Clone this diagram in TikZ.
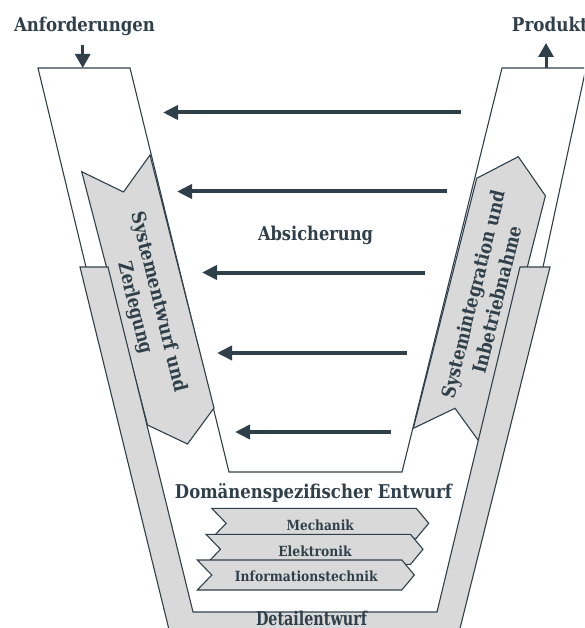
\documentclass[tikz,border=0pt]{standalone}
\usepackage{fontspec}
\usepackage{graphicx}
\setmainfont{DejaVu Serif}
\usetikzlibrary{arrows.meta}
\definecolor{ink}{HTML}{2F404B}
\definecolor{panel}{HTML}{D9D9D9}
% set a text to a given width, keeping its height
\newcommand{\fitto}[2]{\resizebox{#1}{\height}{#2}}

\begin{document}
\begin{tikzpicture}[x=1pt,y=-1pt,
  outline/.style={draw=ink,line width=1.1pt},
  panelshape/.style={outline,fill=panel},
  check/.style={draw=ink,line width=4pt,-{Triangle[length=15pt,width=14pt]}},
  io/.style={draw=ink,line width=3pt,-{Triangle[length=14pt,width=15pt]}},
  big/.style={text=ink,inner sep=0pt,font=\bfseries\fontsize{19}{24.5}\selectfont},
  small/.style={text=ink,inner sep=0pt,font=\bfseries\fontsize{14}{16}\selectfont},
  domain/.pic={\draw[panelshape] (0,0) -- (204.5,0) -- (217,15) -- (204.5,30)
               -- (0,30) -- (14.5,15) -- cycle;}]
\useasboundingbox (0,0) rectangle (584,628);
\clip (0,0) rectangle (584,628);

% outline of the V
\draw[outline] (87.9,275) -- (38,68) -- (130,68) -- (229,472) -- (402,472)
  -- (502,68) -- (586,68) -- (541.3,275);

% phase arrows along the arms
\draw[panelshape] (476.7,178.3) -- (518.3,156.7) -- (545.4,195.8) -- (482,445.5)
  -- (455,408.3) -- (413.3,428.3) -- cycle;
\draw[panelshape] (81.7,171.7) -- (123.5,192) -- (150,155) -- (214,408)
  -- (187.5,444) -- (147.5,425) -- cycle;

% detail design band
\draw[panelshape] (80,267) -- (108,267) -- (193,612) -- (437,612) -- (520,267)
  -- (550,267) -- (454.6,650) -- (174,650) -- cycle;

\node[big,rotate=-76,align=center] (design) at (146.5,305)
  {\fitto{185pt}{Systementwurf und}\\\fitto{94pt}{Zerlegung}};
\node[big,rotate=76,align=center] (integ) at (485,297)
  {\fitto{213pt}{Systemintegration und}\\\fitto{151pt}{Inbetriebnahme}};

% verification arrows
\coordinate (a1s) at (461,112.5); \coordinate (a1e) at (163,112.5);
\coordinate (a2s) at (447,191.5); \coordinate (a2e) at (177,191.5);
\coordinate (a3s) at (425,272.5); \coordinate (a3e) at (202,272.5);
\coordinate (a4s) at (407,353);   \coordinate (a4e) at (217,353);
\coordinate (a5s) at (391,432);   \coordinate (a5e) at (235,432);
\foreach \i in {1,...,5} \draw[check] (a\i s) -- (a\i e);

\node[big,anchor=base] (abs) at (315.5,240) {\fitto{115pt}{Absicherung}};
\node[big,anchor=base] (dom) at (313.5,498) {\fitto{277pt}{Domänenspezifischer Entwurf}};
\node[big,anchor=base] (detail) at (311.5,625) {\fitto{111pt}{Detailentwurf}};

% domains
\pic at (211.7,508.3) {domain};
\pic at (206,534.3) {domain};
\pic at (197.3,560) {domain};
\node[small,anchor=base] (mech) at (320.2,530) {\fitto{67.3pt}{Mechanik}};
\node[small,anchor=base] (elec) at (315,556) {\fitto{73.4pt}{Elektronik}};
\node[small,anchor=base] (info) at (306.3,581.3) {\fitto{142.7pt}{Informationstechnik}};

% input and output
\node[big,anchor=base] (req) at (84.5,31.7) {\fitto{141pt}{Anforderungen}};
\node[big,anchor=base west] (prod) at (511.7,31.7) {\fitto{76pt}{Produkt}};
\coordinate (req-in) at (82.7,45);  \coordinate (req-top) at (82.7,68);
\coordinate (prod-top) at (546,68); \coordinate (prod-out) at (546,43);
\draw[io] (req-in) -- (req-top);
\draw[io] (prod-top) -- (prod-out);
\end{tikzpicture}
\end{document}
